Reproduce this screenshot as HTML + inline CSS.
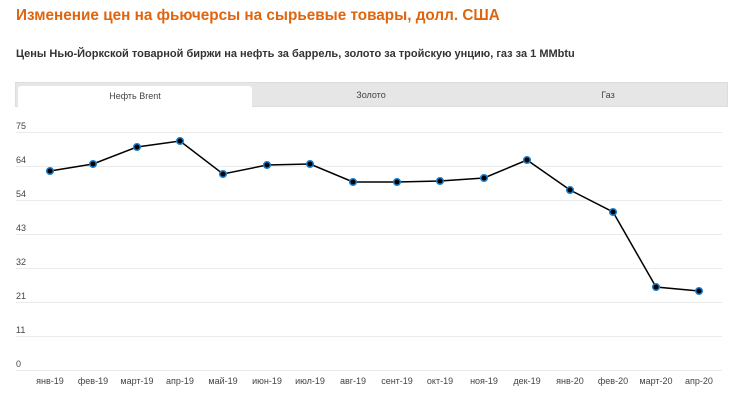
<!DOCTYPE html>
<html><head><meta charset="utf-8"><style>
body{margin:0;width:730px;height:402px;background:#fff;overflow:hidden;font-family:"Liberation Sans",sans-serif;position:relative}
.t{position:absolute;left:16px;top:7px;font-size:15.3px;font-weight:bold;color:#e0650f;white-space:nowrap}
.s{position:absolute;left:16px;top:48px;font-size:11px;font-weight:bold;color:#333;white-space:nowrap}
.tabs{position:absolute;left:15px;top:82px;width:713px;height:25px;background:#e6e6e6;border:1px solid #ddd;box-sizing:border-box}
.tab{position:absolute;top:0;height:24px;line-height:24px;text-align:center;font-size:9px;color:#444}
</style></head><body>
<div class="t">Изменение цен на фьючерсы на сырьевые товары, долл. США</div>
<div class="s">Цены Нью-Йоркской товарной биржи на нефть за баррель, золото за тройскую унцию, газ за 1 MMbtu</div>
<div class="tabs">
<div class="tab" style="left:2px;top:3px;height:22px;line-height:20px;width:234px;background:#fff;border-radius:3px 3px 0 0">Нефть Brent</div>
<div class="tab" style="left:237px;width:236px;line-height:24px">Золото</div>
<div class="tab" style="left:473px;width:238px">Газ</div>
</div>
<svg width="730" height="402" style="position:absolute;left:0;top:0" font-family="Liberation Sans, sans-serif" font-size="9" fill="#444">
<g stroke="#ebebeb" stroke-width="1">
<line x1="16" x2="722" y1="132.5" y2="132.5"/><line x1="16" x2="722" y1="166.5" y2="166.5"/>
<line x1="16" x2="722" y1="200.5" y2="200.5"/><line x1="16" x2="722" y1="234.5" y2="234.5"/>
<line x1="16" x2="722" y1="268.5" y2="268.5"/><line x1="16" x2="722" y1="302.5" y2="302.5"/>
<line x1="16" x2="722" y1="336.5" y2="336.5"/><line x1="16" x2="722" y1="370.5" y2="370.5"/>
</g>
<text x="16" y="129">75</text><text x="16" y="163">64</text><text x="16" y="197">54</text><text x="16" y="231">43</text>
<text x="16" y="265">32</text><text x="16" y="299">21</text><text x="16" y="333">11</text><text x="16" y="367">0</text>
<g text-anchor="middle">
<text x="50" y="384">янв-19</text><text x="93" y="384">фев-19</text><text x="137" y="384">март-19</text><text x="180" y="384">апр-19</text>
<text x="223" y="384">май-19</text><text x="267" y="384">июн-19</text><text x="310" y="384">июл-19</text><text x="353" y="384">авг-19</text>
<text x="397" y="384">сент-19</text><text x="440" y="384">окт-19</text><text x="484" y="384">ноя-19</text><text x="527" y="384">дек-19</text>
<text x="570" y="384">янв-20</text><text x="613" y="384">фев-20</text><text x="656" y="384">март-20</text><text x="699" y="384">апр-20</text>
</g>
<polyline fill="none" stroke="#000" stroke-width="1.5" points="50,171 93,164 137,147 180,141 223,174 267,165 310,164 353,182 397,182 440,181 484,178 527,160 570,190 613,212 656,287 699,291"/>
<g fill="#000" stroke="#1a7fd0" stroke-width="1.5">
<circle cx="50" cy="171" r="3.3"/><circle cx="93" cy="164" r="3.3"/><circle cx="137" cy="147" r="3.3"/><circle cx="180" cy="141" r="3.3"/>
<circle cx="223" cy="174" r="3.3"/><circle cx="267" cy="165" r="3.3"/><circle cx="310" cy="164" r="3.3"/><circle cx="353" cy="182" r="3.3"/>
<circle cx="397" cy="182" r="3.3"/><circle cx="440" cy="181" r="3.3"/><circle cx="484" cy="178" r="3.3"/><circle cx="527" cy="160" r="3.3"/>
<circle cx="570" cy="190" r="3.3"/><circle cx="613" cy="212" r="3.3"/><circle cx="656" cy="287" r="3.3"/><circle cx="699" cy="291" r="3.3"/>
</g>
</svg>
</body></html>
